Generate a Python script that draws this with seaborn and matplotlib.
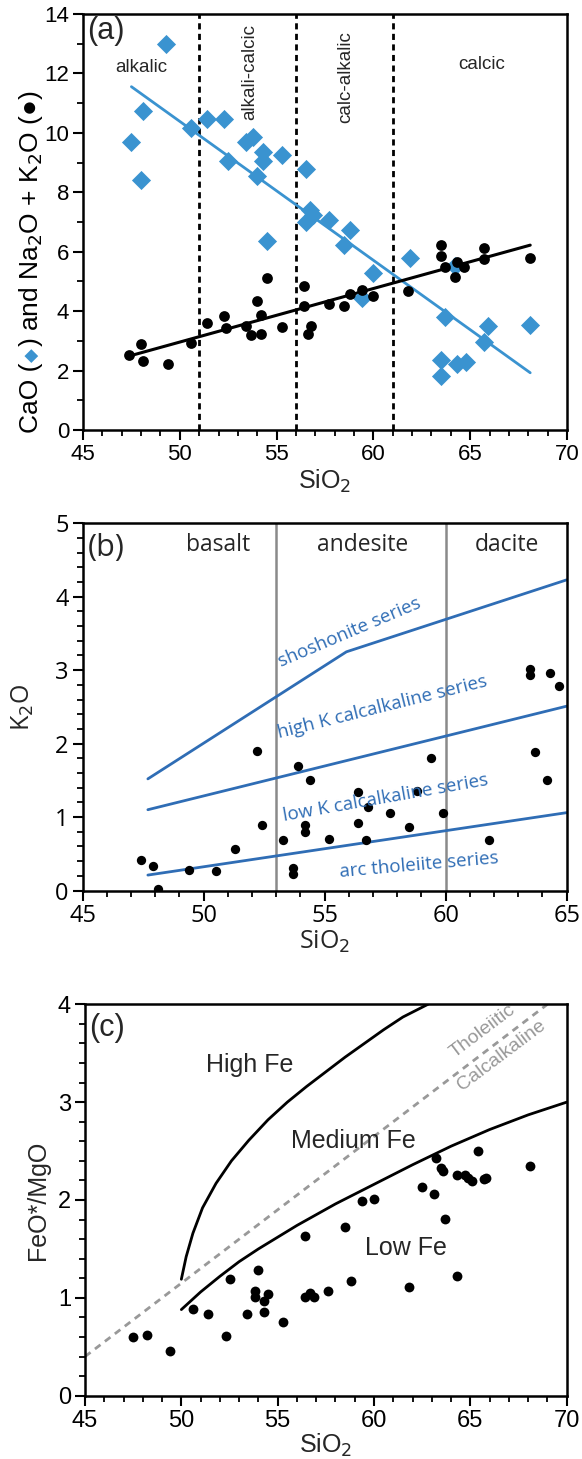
import matplotlib

matplotlib.use("Agg")

import matplotlib.pyplot as plt
import seaborn as sns
from matplotlib.ticker import MultipleLocator

BLUE = "#3A93D0"
SERIES_BLUE = "#2F6DB5"
GREY = "#999999"
W, H = 582, 1459

# (a) CaO and total alkali vs SiO2
cao_sio2 = [49.3, 48.1, 47.5, 48.0, 50.6, 51.4, 52.3, 53.4, 53.8, 54.3, 54.3, 52.5,
            55.3, 54.0, 56.5, 56.7, 56.5, 56.9, 57.7, 54.5, 58.8, 58.5, 60.0, 59.4,
            61.9, 63.7, 65.9, 68.1, 65.7, 63.5, 63.5, 64.3, 64.8, 64.2]
cao = [12.98, 10.74, 9.69, 8.41, 10.18, 10.48, 10.48, 9.70, 9.85, 9.37, 9.06, 9.06,
       9.26, 8.56, 8.78, 7.40, 7.01, 7.24, 7.07, 6.37, 6.73, 6.23, 5.27, 4.43,
       5.80, 3.79, 3.51, 3.53, 2.97, 2.36, 1.83, 2.22, 2.30, 5.52]
alk_sio2 = [47.4, 48.0, 48.1, 49.4, 50.6, 51.4, 52.3, 52.4, 53.4, 53.7, 54.0, 54.2,
            54.2, 54.5, 55.3, 56.4, 56.4, 56.6, 56.8, 57.7, 58.5, 58.8, 59.4, 60.0,
            61.8, 63.5, 63.5, 63.7, 64.3, 64.2, 64.7, 65.7, 65.7, 68.1]
alk = [2.52, 2.88, 2.33, 2.21, 2.94, 3.61, 3.84, 3.42, 3.50, 3.21, 4.34, 3.87,
       3.23, 5.12, 3.48, 4.84, 4.18, 3.23, 3.50, 4.25, 4.17, 4.57, 4.71, 4.51,
       4.69, 6.23, 5.87, 5.50, 5.66, 5.16, 5.50, 6.12, 5.75, 5.78]
fields_a = [51, 56, 61]
field_names_a = ["alkalic", "alkali-calcic", "calc-alkalic", "calcic"]

# (b) K2O vs SiO2
k2o_sio2 = [47.4, 47.9, 48.1, 49.4, 50.5, 51.3, 52.2, 52.4, 53.3, 53.7, 53.7, 53.9,
            54.2, 54.2, 54.4, 55.2, 56.4, 56.4, 56.7, 56.8, 57.7, 58.5, 58.8, 59.4,
            59.9, 61.8, 63.7, 64.2, 63.5, 63.5, 64.3, 64.7]
k2o = [0.42, 0.33, 0.02, 0.28, 0.27, 0.57, 1.90, 0.89, 0.69, 0.30, 0.23, 1.69,
       0.89, 0.79, 1.51, 0.70, 1.34, 0.92, 0.69, 1.14, 1.05, 0.87, 1.35, 1.80,
       1.05, 0.69, 1.89, 1.51, 3.02, 2.94, 2.96, 2.79]
rock_bounds = [53, 60]
rock_names = ["basalt", "andesite", "dacite"]
shosh_x = [47.7, 55.9, 65.0]
shosh_y = [1.52, 3.25, 4.23]
highk_x = [47.7, 65.0]
highk_y = [1.10, 2.51]
lowk_x = [47.7, 65.0]
lowk_y = [0.21, 1.06]
series_names = ["shoshonite series", "high K calcalkaline series",
                "low K calcalkaline series", "arc tholeiite series"]

# (c) FeO*/MgO vs SiO2
fe_sio2 = [47.5, 48.2, 49.4, 50.6, 51.4, 52.3, 52.5, 53.4, 53.8, 53.8, 54.0, 54.3,
           54.3, 54.5, 55.3, 56.4, 56.4, 56.7, 56.9, 57.6, 58.5, 58.8, 59.4, 60.0,
           61.8, 62.5, 63.1, 63.2, 63.5, 63.6, 63.7, 64.3, 64.3, 64.7, 64.9, 65.1,
           65.4, 65.7, 65.8, 68.1]
fe_mg = [0.60, 0.62, 0.46, 0.89, 0.83, 0.61, 1.19, 0.83, 1.07, 1.01, 1.28, 0.97,
         0.86, 1.04, 0.75, 1.63, 1.01, 1.05, 1.01, 1.07, 1.72, 1.17, 1.99, 2.01,
         1.11, 2.13, 2.06, 2.43, 2.33, 2.30, 1.81, 1.22, 2.26, 2.26, 2.22, 2.19,
         2.50, 2.21, 2.22, 2.35]
highfe_x = [50.0, 50.25, 50.6, 51.1, 51.8, 52.6, 53.5, 54.5, 55.5, 56.5, 57.5, 58.5,
            59.5, 60.5, 61.5, 62.8]
highfe_y = [1.19, 1.42, 1.66, 1.92, 2.17, 2.40, 2.61, 2.82, 3.00, 3.16, 3.31, 3.46,
            3.60, 3.74, 3.87, 4.00]
medfe_x = [50.0, 51.0, 52.0, 53.0, 54.0, 55.0, 56.0, 57.0, 58.0, 59.0, 60.0, 62.0,
           64.0, 66.0, 68.0, 70.0]
medfe_y = [0.88, 1.06, 1.22, 1.37, 1.50, 1.62, 1.74, 1.85, 1.96, 2.06, 2.16, 2.36,
           2.55, 2.72, 2.87, 3.00]
thol_x = [45.0, 69.0]
thol_y = [0.40, 4.00]


def _style() -> None:
    sns.set_theme(style="ticks")
    plt.rcParams.update(
        {
            "font.family": ["Liberation Sans", "DejaVu Sans"],
            "axes.linewidth": 1.8,
            "xtick.direction": "out",
            "ytick.direction": "out",
            "xtick.major.size": 7,
            "ytick.major.size": 7,
            "xtick.minor.size": 4,
            "ytick.minor.size": 4,
            "xtick.major.width": 1.5,
            "ytick.major.width": 1.5,
            "xtick.minor.width": 1.3,
            "ytick.minor.width": 1.3,
            "xtick.color": "black",
            "ytick.color": "black",
            "axes.edgecolor": "black",
        }
    )


def px_axes(fig, left, top, right, bottom):
    return fig.add_axes([left / W, 1 - bottom / H, (right - left) / W, (bottom - top) / H])


def ticks(ax, xmaj, xmin, ymaj, ymin, size, family=None):
    ax.xaxis.set_major_locator(MultipleLocator(xmaj))
    ax.xaxis.set_minor_locator(MultipleLocator(xmin))
    ax.yaxis.set_major_locator(MultipleLocator(ymaj))
    ax.yaxis.set_minor_locator(MultipleLocator(ymin))
    ax.tick_params(which="both", top=False, right=False)
    ax.tick_params(labelsize=size, pad=3)
    if family:
        for lab in ax.get_xticklabels() + ax.get_yticklabels():
            lab.set_family(family)
    for side in ["top", "right", "bottom", "left"]:
        ax.spines[side].set_visible(True)
    ax.set_xlabel("")
    ax.set_ylabel("")


_style()
fig = plt.figure(figsize=(W / 100, H / 100), dpi=100)

# ---------------- panel (a)
ax = px_axes(fig, 83, 14, 567, 430)
for xv in fields_a:
    ax.axvline(xv, color="black", lw=2, ls=(0, (2.2, 1.6)), zorder=1)
sns.regplot(x=cao_sio2, y=cao, ax=ax, scatter=False, ci=None, color=BLUE,
            line_kws={"lw": 2, "zorder": 2})
sns.regplot(x=alk_sio2, y=alk, ax=ax, scatter=False, ci=None, color="black",
            line_kws={"lw": 2.2, "zorder": 2})
sns.scatterplot(x=cao_sio2, y=cao, ax=ax, marker="D", s=95, color=BLUE,
                linewidth=0, zorder=3)
sns.scatterplot(x=alk_sio2, y=alk, ax=ax, marker="o", s=60, color="black",
                linewidth=0, zorder=4)
ax.set_xlim(45, 70)
ax.set_ylim(0, 14)
ticks(ax, 5, 1, 2, 1, 16)
ax.text(45.2, 13.43, "(a)", fontsize=22, ha="left", va="center")
ax.text(48.0, 12.2, field_names_a[0], fontsize=13.5, ha="center", va="center")
ax.text(53.63, 12.05, field_names_a[1], fontsize=13.5, ha="center", va="center", rotation=90)
ax.text(58.59, 11.88, field_names_a[2], fontsize=13.5, ha="center", va="center", rotation=90)
ax.text(65.57, 12.3, field_names_a[3], fontsize=13.5, ha="center", va="center")
ax.set_xlabel("SiO$_2$", fontsize=18, labelpad=2)

# ---------------- panel (b)
bfam = ["Open Sans", "DejaVu Sans"]
ax = px_axes(fig, 82.5, 523.3, 566.7, 890.5)
for xv in rock_bounds:
    ax.axvline(xv, color="#8A8A8A", lw=1.8, zorder=1)
for lx, ly in [(shosh_x, shosh_y), (highk_x, highk_y), (lowk_x, lowk_y)]:
    sns.lineplot(x=lx, y=ly, ax=ax, color=SERIES_BLUE, lw=2, estimator=None,
                 sort=False, zorder=2)
sns.scatterplot(x=k2o_sio2, y=k2o, ax=ax, marker="o", s=45, color="black",
                linewidth=0, zorder=3)
ax.set_xlim(45, 65)
ax.set_ylim(0, 5)
ticks(ax, 5, 1, 1, 0.2, 17, bfam)
ax.text(45.2, 4.66, "(b)", fontsize=22, ha="left", va="center", family=bfam)
for name, xc in zip(rock_names, [50.58, 56.55, 62.53]):
    ax.text(xc, 4.70, name, fontsize=16.5, ha="center", va="center", family=bfam)
for name, (xc, yc, rot) in zip(series_names, [(56.05, 3.51, 23), (57.38, 2.50, 14),
                                              (57.52, 1.26, 10), (58.92, 0.35, 5)]):
    ax.text(xc, yc, name, fontsize=13.5, ha="center", va="center", rotation=rot,
            color=SERIES_BLUE, family=bfam, rotation_mode="anchor")
ax.set_xlabel("SiO$_2$", fontsize=18, labelpad=0, family=bfam)
ax.set_ylabel("K$_2$O", fontsize=18, labelpad=14, family=bfam)

# ---------------- panel (c)
ax = px_axes(fig, 85, 1004.3, 566.7, 1395.7)
sns.lineplot(x=thol_x, y=thol_y, ax=ax, color=GREY, lw=2, ls=(0, (2.5, 2)),
             estimator=None, sort=False, zorder=1)
for lx, ly in [(highfe_x, highfe_y), (medfe_x, medfe_y)]:
    sns.lineplot(x=lx, y=ly, ax=ax, color="black", lw=2, estimator=None,
                 sort=False, zorder=2)
sns.scatterplot(x=fe_sio2, y=fe_mg, ax=ax, marker="o", s=50, color="black",
                linewidth=0, zorder=3)
ax.set_xlim(45, 70)
ax.set_ylim(0, 4)
ticks(ax, 5, 1, 1, 0.2, 17)
ax.text(45.2, 3.76, "(c)", fontsize=22, ha="left", va="center")
ax.text(53.56, 3.38, "High Fe", fontsize=18, ha="center", va="center")
ax.text(58.91, 2.60, "Medium Fe", fontsize=18, ha="center", va="center")
ax.text(61.68, 1.51, "Low Fe", fontsize=18, ha="center", va="center")
ax.text(65.65, 3.72, "Tholeiitic", fontsize=14, ha="center", va="center", rotation=37,
        color=GREY, rotation_mode="anchor")
ax.text(66.64, 3.48, "Calcalkaline", fontsize=14, ha="center", va="center", rotation=37,
        color=GREY, rotation_mode="anchor")
ax.set_xlabel("SiO$_2$", fontsize=18, labelpad=0)
ax.set_ylabel("FeO*/MgO", fontsize=18, labelpad=6)

# y label of panel (a), built from parts so the diamond can be blue
fig.canvas.draw()
renderer = fig.canvas.get_renderer()
parts = [("CaO (", "black", 19, 38), ("◆", BLUE, 13, 37), (") and Na$_2$O + K$_2$O (●)", "black", 19, 38)]
ypos = H - 433
for text, color, size, xb in parts:
    t = fig.text(xb / W, ypos / H, text, rotation=90, rotation_mode="anchor",
                 ha="left", va="baseline", fontsize=size, color=color)
    ypos += t.get_window_extent(renderer).height + 1

fig.savefig("out.png", dpi=100, facecolor="white")
